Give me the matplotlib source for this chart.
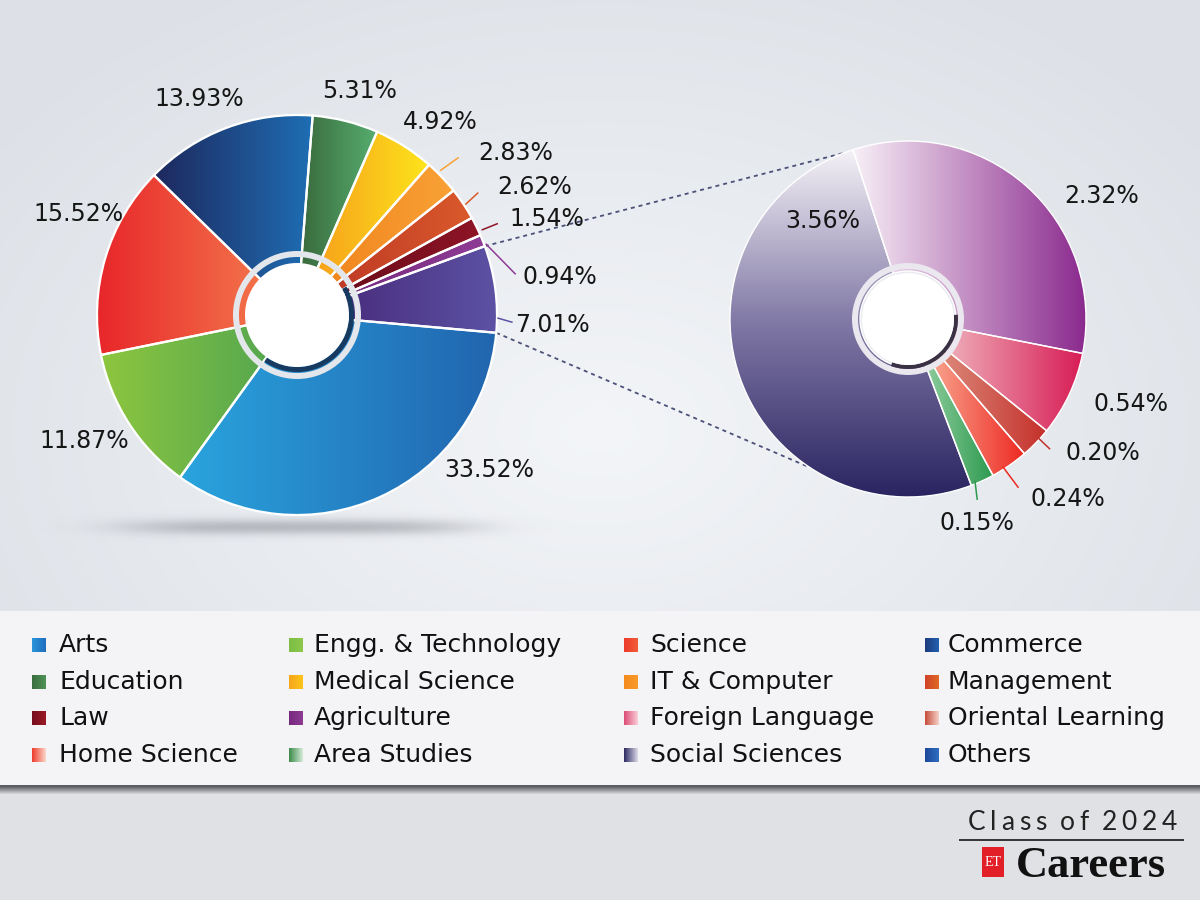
import numpy as np
import matplotlib
matplotlib.use('Agg')
import matplotlib.pyplot as plt
from matplotlib.colors import LinearSegmentedColormap, to_rgb
from matplotlib.patches import Circle, Wedge, Rectangle

plt.rcParams['font.family'] = ['DejaVu Sans']

# ---- data ----
# main pie, counter-clockwise from just below 3 o'clock
main_labels = ['Others', 'Agriculture', 'Law', 'Management', 'IT & Computer',
               'Medical Science', 'Education', 'Commerce', 'Science',
               'Engg. & Technology', 'Arts']
main_values = [7.01, 0.94, 1.54, 2.62, 2.83, 4.92, 5.31, 13.93, 15.52, 11.87, 33.52]

# breakdown of "Others"
other_labels = ['Social Sciences', 'Area Studies', 'Home Science',
                'Oriental Learning', 'Foreign Language', 'Others']
other_values = [3.56, 0.15, 0.24, 0.20, 0.54, 2.32]

legend_labels = ['Arts', 'Engg. & Technology', 'Science', 'Commerce',
                 'Education', 'Medical Science', 'IT & Computer', 'Management',
                 'Law', 'Agriculture', 'Foreign Language', 'Oriental Learning',
                 'Home Science', 'Area Studies', 'Social Sciences', 'Others']

# ---- styles ----
main_colors = {
    'Others': ('#4a2e7e', '#5c52a4'),
    'Agriculture': ('#772a80', '#8f3c94'),
    'Law': ('#6b0c1b', '#8e1526'),
    'Management': ('#bf3a26', '#da5a2b'),
    'IT & Computer': ('#f0861e', '#f9a236'),
    'Medical Science': ('#f7a21c', '#fde51b'),
    'Education': ('#3a6a3d', '#56ae6f'),
    'Commerce': ('#1d285d', '#1f6eb4'),
    'Science': ('#e8262a', '#f3734a'),
    'Engg. & Technology': ('#8dc63f', '#57a84f'),
    'Arts': ('#2aa4de', '#2165af'),
}
other_colors = {
    'Social Sciences': ('#f5f2f7', '#8078a5', '#2a2461'),
    'Area Studies': ('#8fcd9e', '#2d9a4f'),
    'Home Science': ('#f8a48e', '#ee2922'),
    'Oriental Learning': ('#dc8a7c', '#c4302a'),
    'Foreign Language': ('#efb0ba', '#d71c55'),
    'Others': ('#f8f0f7', '#8a298d'),
}
legend_colors = {
    'Arts': ('#2a96da', '#1f6dbd'),
    'Engg. & Technology': ('#7dbd45', '#8cc84c'),
    'Science': ('#ec3a2c', '#f25c38'),
    'Commerce': ('#1d3a7c', '#2262b2'),
    'Education': ('#3a6c3e', '#4f9358'),
    'Medical Science': ('#f6a51c', '#fcc51a'),
    'IT & Computer': ('#f58a1e', '#f89a2a'),
    'Management': ('#cf4329', '#e06a26'),
    'Law': ('#760e1e', '#9a1a26'),
    'Agriculture': ('#77297f', '#8d3b92'),
    'Foreign Language': ('#dd4a75', '#f9d0d8'),
    'Oriental Learning': ('#c64c3a', '#f6d2ca'),
    'Home Science': ('#ee3b2a', '#fcd8cc'),
    'Area Studies': ('#3a8a48', '#d6ecda'),
    'Social Sciences': ('#2b2960', '#dedcea'),
    'Others': ('#1d4898', '#2e6dc2'),
}

W, H = 1200, 900
left_c, left_r = (297, H - 315), 200
right_c, right_r = (908, H - 319), 178

# label placement (angle deg, radius) around each pie
left_text_pos = [(-2.2, 256), (8.2, 266), (21, 268), (28.3, 270), (36.6, 272),
                 (53.5, 240), (74.3, 233), (114.4, 237), (155.2, 241),
                 (210.7, 247), (-38.9, 247)]
right_text_pos = [(131, 130), (-71.3, 215), (-48.4, 241), (-34.5, 237),
                  (-20.9, 239), (32.5, 229)]
# leader lines: label -> (r0, a0, r1, a1)
left_leaders = {'IT & Computer': (204, 45.2, 225, 44.3),
                'Management': (202, 33.3, 218, 34.0),
                'Law': (204, 24.7, 220, 24.5),
                'Agriculture': (202, 20.5, 222, 10.7),
                'Others': (201, -0.9, 215, -1.9)}
right_leaders = {'Oriental Learning': (176, -42.4, 192, -42.5),
                 'Home Science': (176, -57.3, 201, -56.8),
                 'Area Studies': (176, -67.6, 193, -69.0)}


def polar(center, r, ang):
    a = np.deg2rad(ang)
    return center[0] + r * np.cos(a), center[1] + r * np.sin(a)


def gradient_fill(ax, patch, cols, vertical=False, z=2):
    path = patch.get_path().transformed(patch.get_patch_transform())
    x0, y0, x1, y1 = path.get_extents().extents
    cmap = LinearSegmentedColormap.from_list('g', cols)
    g = np.linspace(0, 1, 256)
    img = g[:, None] if vertical else g[None, :]
    im = ax.imshow(img, cmap=cmap, extent=(x0, x1, y0, y1), aspect='auto',
                   zorder=z, interpolation='bilinear')
    im.set_clip_path(patch)
    return im


fig = plt.figure(figsize=(12, 9), dpi=100)
ax = fig.add_axes([0, 0, 1, 1])

# ---- background ----
yy, xx = np.mgrid[0:H, 0:W]
top_in = np.array(to_rgb('#f3f5f8'))
top_out = np.array(to_rgb('#dde1e7'))
d = np.clip(np.sqrt(((xx - 600) / 760.0) ** 2 + ((yy - 430) / 520.0) ** 2), 0, 1)
bg = top_in * (1 - d[..., None]) + top_out * d[..., None]
band = (yy >= 611) & (yy < 785)
bg[band] = to_rgb('#f4f3f6')
low = yy >= 785
t = np.clip((yy - 786) / 8.0, 0, 1)
dark = np.array(to_rgb('#5a5c61'))
base = np.array(to_rgb('#dfe1e4'))
mix = dark * (1 - t[..., None]) + base * t[..., None]
bg[low] = mix[low]
ax.imshow(bg, extent=(0, W, 0, H), zorder=0, aspect='auto', interpolation='nearest')

# shadow under the main pie
sx = np.linspace(20, 575, 500)
sy = np.linspace(H - 555, H - 500, 70)
SX, SY = np.meshgrid(sx, sy)
alpha = 0.5 * np.exp(-((SX - 297) / 175.0) ** 4) * np.exp(-((SY - (H - 527)) / 8.0) ** 2)
shadow = np.zeros(SX.shape + (4,))
shadow[..., :3] = to_rgb('#85888f')
shadow[..., 3] = alpha
ax.imshow(shadow, extent=(20, 575, H - 555, H - 500), origin='lower', zorder=1, aspect='auto')

# ---- main pie ----
wedges, _ = ax.pie(main_values, center=left_c, radius=left_r, startangle=-5.1,
                   counterclock=True,
                   wedgeprops=dict(width=left_r - 50, edgecolor='white', linewidth=1.6))
for w, lab in zip(wedges, main_labels):
    gradient_fill(ax, w, main_colors[lab], z=2)
    w.set_facecolor('none')
    w.set_zorder(3)

# center ring
ax.add_patch(Wedge(left_c, 64, 0, 360, width=6, facecolor='#e3e6eb', zorder=4))
ax.add_patch(Wedge(left_c, 57, -125, 30, width=5, facecolor='#173a60', zorder=4))
ax.add_patch(Circle(left_c, 52, facecolor='white', zorder=5))

# ---- others pie ----
owedges, _ = ax.pie(other_values, center=right_c, radius=right_r, startangle=108,
                    counterclock=True,
                    wedgeprops=dict(width=right_r - 48, edgecolor='white', linewidth=1.0))
for w, lab in zip(owedges, other_labels):
    gradient_fill(ax, w, other_colors[lab], vertical=(lab == 'Social Sciences'), z=2)
    w.set_facecolor('none')
    w.set_zorder(3)

ax.add_patch(Wedge(right_c, 56, 0, 360, width=6, facecolor='#ebe7ef', zorder=4))
ax.add_patch(Wedge(right_c, 50, -110, 5, width=4, facecolor='#3b3145', zorder=4))
ax.add_patch(Circle(right_c, 46, facecolor='white', zorder=5))

# ---- dotted connectors ----
others_w = wedges[0]
for a_left, a_right in [(others_w.theta2, 111), (others_w.theta1, 236.5)]:
    p0 = polar(left_c, left_r, a_left)
    p1 = polar(right_c, right_r, a_right)
    ax.plot([p0[0], p1[0]], [p0[1], p1[1]], color='#4b5078', lw=1.3,
            linestyle=(0, (2.2, 2.2)), zorder=1.5)

# ---- leader lines ----
for lab, (r0, a0, r1, a1) in left_leaders.items():
    p0, p1 = polar(left_c, r0, a0), polar(left_c, r1, a1)
    ax.plot([p0[0], p1[0]], [p0[1], p1[1]], color=main_colors[lab][1], lw=1.1, zorder=3)
for lab, (r0, a0, r1, a1) in right_leaders.items():
    p0, p1 = polar(right_c, r0, a0), polar(right_c, r1, a1)
    ax.plot([p0[0], p1[0]], [p0[1], p1[1]], color=other_colors[lab][-1], lw=1.1, zorder=3)

# ---- value labels ----
for v, (a, r) in zip(main_values, left_text_pos):
    x, y = polar(left_c, r, a)
    ax.text(x, y, f'{v:.2f}%', ha='center', va='center', fontsize=17,
            color='#161616', zorder=6)
for v, (a, r) in zip(other_values, right_text_pos):
    x, y = polar(right_c, r, a)
    ax.text(x, y, f'{v:.2f}%', ha='center', va='center', fontsize=17,
            color='#161616', zorder=6)

# ---- legend ----
col_sw = [32, 289, 624, 925]
col_tx = [59, 314, 650, 948]
row_y = [645, 682, 718, 755]
for i, lab in enumerate(legend_labels):
    r, c = divmod(i, 4)
    yc = H - row_y[r]
    sw = Rectangle((col_sw[c], yc - 7), 14, 14, facecolor='none', edgecolor='none', zorder=4)
    ax.add_patch(sw)
    gradient_fill(ax, sw, legend_colors[lab], z=3)
    ax.text(col_tx[c], yc, lab, ha='left', va='center', fontsize=18,
            color='#111111', zorder=6)

# ---- footer ----
renderer = fig.canvas.get_renderer()
title = 'Class of 2024'
fx0, fx1, fy = 968, 1177, H - 822
chars = []
for ch in title:
    tt = ax.text(0, fy, ch, ha='left', va='center', fontsize=19, color='#222222',
                 family=['Lato', 'DejaVu Sans'], zorder=6)
    chars.append(tt)
widths = [tt.get_window_extent(renderer).width if ch != ' ' else 4
          for tt, ch in zip(chars, title)]
gap = (fx1 - fx0 - sum(widths)) / (len(title) - 1)
xpos = fx0
for tt, wd in zip(chars, widths):
    tt.set_x(xpos)
    xpos += wd + gap
ax.plot([960, 1183], [H - 840, H - 840], color='#333333', lw=1.4, zorder=6)
ax.add_patch(Rectangle((982, H - 877), 22, 30, facecolor='#e21f26', zorder=6))
ax.text(993, H - 862, 'ET', ha='center', va='center', fontsize=10, color='white',
        family=['Liberation Serif', 'DejaVu Serif'], zorder=7)
ax.text(1016, H - 877, 'Careers', ha='left', va='baseline', fontsize=32,
        fontweight='bold', color='#111111',
        family=['Liberation Serif', 'DejaVu Serif'], zorder=7)

ax.set_xlim(0, W)
ax.set_ylim(0, H)
ax.set_aspect('auto')
ax.axis('off')

fig.savefig('out.png', dpi=100)
